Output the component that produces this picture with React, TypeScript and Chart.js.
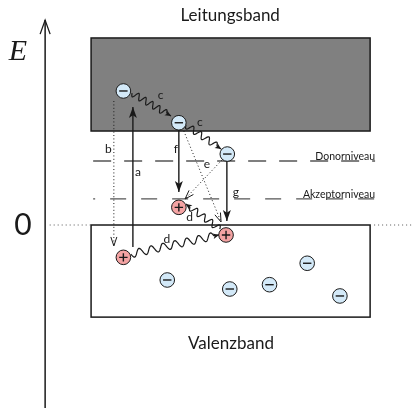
import React, { useEffect, useRef } from "react";
import { Chart, registerables } from "chart.js";

Chart.register(...registerables);

// Coordinate system: x = position (0..100), E = energy (valence band edge = 0, band gap = 1)
const X_RANGE = [0, 100];
const E_RANGE = [-1.947, 2.394];

const bandX = [22.0, 89.4];
const conductionBandE = [1.0, 1.99];
const valenceBandE = [-0.98, 0];
const bandNames = ["Leitungsband", "Valenzband"];
const bandNameX = [55.6, 55.8];
const bandNameE = [2.234, -1.266];

const levelX = [22.5, 90.6];
const levelE = [0.681, 0.277];
const levelNames = ["Donorniveau", "Akzeptorniveau"];

const energyAxisX = 10.9;
const energyAxisE = [-1.95, 2.18];
const axisLabels = ["E", "0"];
const axisLabelX = [4.35, 5.56];
const axisLabelE = [1.84, 0.0];
const zeroLineLeftX = [12.0, 22.0];
const zeroLineRightX = [89.4, 100];

const electronX = [29.8, 43.2, 54.9, 40.4, 74.2, 65.1, 55.5, 82.1];
const electronE = [1.426, 1.088, 0.755, -0.585, -0.407, -0.635, -0.681, -0.755];
const holeX = [43.2, 54.6, 29.8];
const holeE = [0.188, -0.106, -0.344];

// arrows: [x0, E0, x1, E1]
const solidArrows = [
  [32.1, -0.234, 32.1, 1.255],
  [43.2, 1.011, 43.2, 0.351],
  [54.8, 0.681, 54.8, 0.043],
];
const dottedArrows = [
  [27.5, 1.319, 27.5, -0.223],
  [44.4, 1.0, 53.4, 0.032],
  [53.6, 0.691, 44.7, 0.277],
];
const wavyArrows = [
  [31.9, 1.404, 41.3, 1.16],
  [44.9, 1.064, 53.4, 0.809],
  [31.6, -0.309, 52.9, -0.106],
  [53.1, -0.043, 44.9, 0.223],
];

const processLabels = ["a", "b", "c", "c", "d", "d", "e", "f", "g"];
const processLabelX = [33.3, 26.2, 38.8, 48.3, 40.3, 45.8, 50.0, 42.5, 57.0];
const processLabelE = [0.564, 0.809, 1.383, 1.09, -0.146, 0.080, 0.644, 0.809, 0.351];

const FONT = "Lato, 'DejaVu Sans', sans-serif";
const INK = "#1a1a1a";

function arrowHead(ctx: CanvasRenderingContext2D, x0: number, y0: number, x1: number, y1: number, len: number, half: number, filled: boolean) {
  const a = Math.atan2(y1 - y0, x1 - x0);
  const ux = Math.cos(a), uy = Math.sin(a);
  const nx = -uy, ny = ux;
  const bx = x1 - ux * len, by = y1 - uy * len;
  ctx.save();
  ctx.setLineDash([]);
  ctx.beginPath();
  if (filled) {
    ctx.moveTo(x1, y1);
    ctx.lineTo(bx + nx * half, by + ny * half);
    ctx.lineTo(x1 - ux * len * 0.75, y1 - uy * len * 0.75);
    ctx.lineTo(bx - nx * half, by - ny * half);
    ctx.closePath();
    ctx.fill();
  } else {
    ctx.moveTo(bx + nx * half, by + ny * half);
    ctx.lineTo(x1, y1);
    ctx.lineTo(bx - nx * half, by - ny * half);
    ctx.stroke();
  }
  ctx.restore();
}

function wavy(ctx: CanvasRenderingContext2D, x0: number, y0: number, x1: number, y1: number, amp: number, wl: number) {
  const dx = x1 - x0, dy = y1 - y0;
  const len = Math.hypot(dx, dy);
  const ux = dx / len, uy = dy / len;
  const nx = -uy, ny = ux;
  const waveLen = len - 5;
  const n = Math.max(1, Math.round(waveLen / wl));
  const w = waveLen / n;
  ctx.beginPath();
  ctx.moveTo(x0, y0);
  for (let s = 0; s <= waveLen; s += 0.5) {
    const o = amp * Math.sin((2 * Math.PI * s) / w);
    ctx.lineTo(x0 + ux * s + nx * o, y0 + uy * s + ny * o);
  }
  ctx.lineTo(x1, y1);
  ctx.stroke();
  arrowHead(ctx, x0, y0, x1, y1, 6, 2.8, true);
}

const diagramPlugin = {
  id: "bandDiagram",
  beforeDatasetsDraw(chart: any) {
    const { ctx, scales } = chart;
    const px = (v: number) => scales.x.getPixelForValue(v);
    const py = (v: number) => scales.y.getPixelForValue(v);
    ctx.save();
    ctx.strokeStyle = INK;
    ctx.fillStyle = INK;

    // conduction band
    ctx.lineWidth = 1.5;
    ctx.fillStyle = "#808080";
    ctx.fillRect(px(bandX[0]), py(conductionBandE[1]), px(bandX[1]) - px(bandX[0]), py(conductionBandE[0]) - py(conductionBandE[1]));
    ctx.strokeRect(px(bandX[0]), py(conductionBandE[1]), px(bandX[1]) - px(bandX[0]), py(conductionBandE[0]) - py(conductionBandE[1]));
    // valence band
    ctx.fillStyle = "#ffffff";
    ctx.fillRect(px(bandX[0]), py(valenceBandE[1]), px(bandX[1]) - px(bandX[0]), py(valenceBandE[0]) - py(valenceBandE[1]));
    ctx.strokeRect(px(bandX[0]), py(valenceBandE[1]), px(bandX[1]) - px(bandX[0]), py(valenceBandE[0]) - py(valenceBandE[1]));

    // zero dotted lines
    ctx.lineWidth = 1;
    ctx.strokeStyle = "#555";
    ctx.setLineDash([1, 3]);
    ctx.beginPath();
    ctx.moveTo(px(zeroLineLeftX[0]), py(0));
    ctx.lineTo(px(zeroLineLeftX[1]), py(0));
    ctx.moveTo(px(zeroLineRightX[0]) + 4, py(0));
    ctx.lineTo(px(zeroLineRightX[1]), py(0));
    ctx.stroke();

    // level dashed lines
    ctx.strokeStyle = "#555";
    ctx.lineWidth = 1.3;
    ctx.setLineDash([18, 13]);
    ctx.lineDashOffset = 0;
    ctx.beginPath();
    ctx.moveTo(px(levelX[0]), py(levelE[0]));
    ctx.lineTo(px(levelX[1]), py(levelE[0]));
    ctx.stroke();
    ctx.setLineDash([16, 15]);
    ctx.lineDashOffset = 14;
    ctx.beginPath();
    ctx.moveTo(px(levelX[0]), py(levelE[1]));
    ctx.lineTo(px(levelX[1]), py(levelE[1]));
    ctx.stroke();
    ctx.lineDashOffset = 0;
    ctx.setLineDash([]);

    // energy axis
    ctx.strokeStyle = INK;
    ctx.lineWidth = 1.5;
    ctx.beginPath();
    ctx.moveTo(px(energyAxisX), py(energyAxisE[0]));
    ctx.lineTo(px(energyAxisX), py(energyAxisE[1]));
    ctx.stroke();
    ctx.lineWidth = 1.3;
    arrowHead(ctx, px(energyAxisX), py(energyAxisE[0]), px(energyAxisX), py(energyAxisE[1]), 14, 5, false);

    // solid arrows
    ctx.fillStyle = INK;
    ctx.lineWidth = 1.4;
    solidArrows.forEach((a) => {
      const x0 = px(a[0]), y0 = py(a[1]), x1 = px(a[2]), y1 = py(a[3]);
      ctx.beginPath();
      ctx.moveTo(x0, y0);
      ctx.lineTo(x1, y1);
      ctx.stroke();
      arrowHead(ctx, x0, y0, x1, y1, 11, 4, true);
    });

    // dotted arrows
    ctx.lineWidth = 1;
    dottedArrows.forEach((a) => {
      const x0 = px(a[0]), y0 = py(a[1]), x1 = px(a[2]), y1 = py(a[3]);
      ctx.setLineDash([1, 2.4]);
      ctx.beginPath();
      ctx.moveTo(x0, y0);
      ctx.lineTo(x1, y1);
      ctx.stroke();
      ctx.setLineDash([]);
      arrowHead(ctx, x0, y0, x1, y1, 9, 3, false);
    });

    // wavy arrows
    ctx.lineWidth = 1.2;
    wavyArrows.forEach((a, i) => {
      wavy(ctx, px(a[0]), py(a[1]), px(a[2]), py(a[3]), i === 2 ? 3.8 : 3.2, i === 2 ? 12 : 8.5);
    });
    ctx.restore();
  },
  afterDatasetsDraw(chart: any) {
    const { ctx, scales } = chart;
    const px = (v: number) => scales.x.getPixelForValue(v);
    const py = (v: number) => scales.y.getPixelForValue(v);
    ctx.save();
    ctx.strokeStyle = INK;
    ctx.lineWidth = 1.4;
    // signs
    electronX.forEach((xv, i) => {
      const cx = px(xv), cy = py(electronE[i]);
      ctx.beginPath();
      ctx.moveTo(cx - 4.2, cy);
      ctx.lineTo(cx + 4.2, cy);
      ctx.stroke();
    });
    holeX.forEach((xv, i) => {
      const cx = px(xv), cy = py(holeE[i]);
      ctx.beginPath();
      ctx.moveTo(cx - 4.2, cy);
      ctx.lineTo(cx + 4.2, cy);
      ctx.moveTo(cx, cy - 4.2);
      ctx.lineTo(cx, cy + 4.2);
      ctx.stroke();
    });

    // texts
    ctx.fillStyle = INK;
    ctx.textAlign = "center";
    ctx.textBaseline = "middle";
    ctx.font = `17px ${FONT}`;
    bandNames.forEach((t, i) => ctx.fillText(t, px(bandNameX[i]), py(bandNameE[i])));

    ctx.font = `12px ${FONT}`;
    processLabels.forEach((t, i) => ctx.fillText(t, px(processLabelX[i]), py(processLabelE[i])));

    ctx.textAlign = "right";
    ctx.textBaseline = "alphabetic";
    ctx.font = `10.5px ${FONT}`;
    levelNames.forEach((t, i) => ctx.fillText(t, px(levelX[1]), py(levelE[i]) - 1));

    ctx.textAlign = "center";
    ctx.textBaseline = "middle";
    ctx.font = `italic 30px 'Liberation Serif', 'DejaVu Serif', serif`;
    ctx.fillText(axisLabels[0], px(axisLabelX[0]), py(axisLabelE[0]));
    ctx.font = `30px ${FONT}`;
    ctx.fillText(axisLabels[1], px(axisLabelX[1]), py(axisLabelE[1]));
    ctx.restore();
  },
};

export default function App() {
  const ref = useRef<HTMLCanvasElement | null>(null);
  useEffect(() => {
    if (!ref.current) return;
    const chart = new Chart(ref.current, {
      type: "scatter",
      data: {
        datasets: [
          {
            label: "Elektronen",
            data: electronX.map((x, i) => ({ x, y: electronE[i] })),
            pointRadius: 7.3,
            pointHoverRadius: 7.3,
            backgroundColor: "#d3e9f8",
            borderColor: INK,
            borderWidth: 1,
          },
          {
            label: "Löcher",
            data: holeX.map((x, i) => ({ x, y: holeE[i] })),
            pointRadius: 7.3,
            pointHoverRadius: 7.3,
            backgroundColor: "#f4a3a3",
            borderColor: INK,
            borderWidth: 1,
          },
        ],
      },
      options: {
        responsive: false,
        animation: false,
        events: [],
        layout: { padding: 0, autoPadding: false },
        scales: {
          x: { type: "linear", min: X_RANGE[0], max: X_RANGE[1], display: false },
          y: { type: "linear", min: E_RANGE[0], max: E_RANGE[1], display: false },
        },
        plugins: { legend: { display: false }, tooltip: { enabled: false } },
      },
      plugins: [diagramPlugin],
    });
    return () => chart.destroy();
  }, []);
  return (
    <div style={{ position: "absolute", left: 0, top: 0, width: 414, height: 408, background: "#fff" }}>
      <canvas ref={ref} width={414} height={408} style={{ display: "block" }} />
    </div>
  );
}
